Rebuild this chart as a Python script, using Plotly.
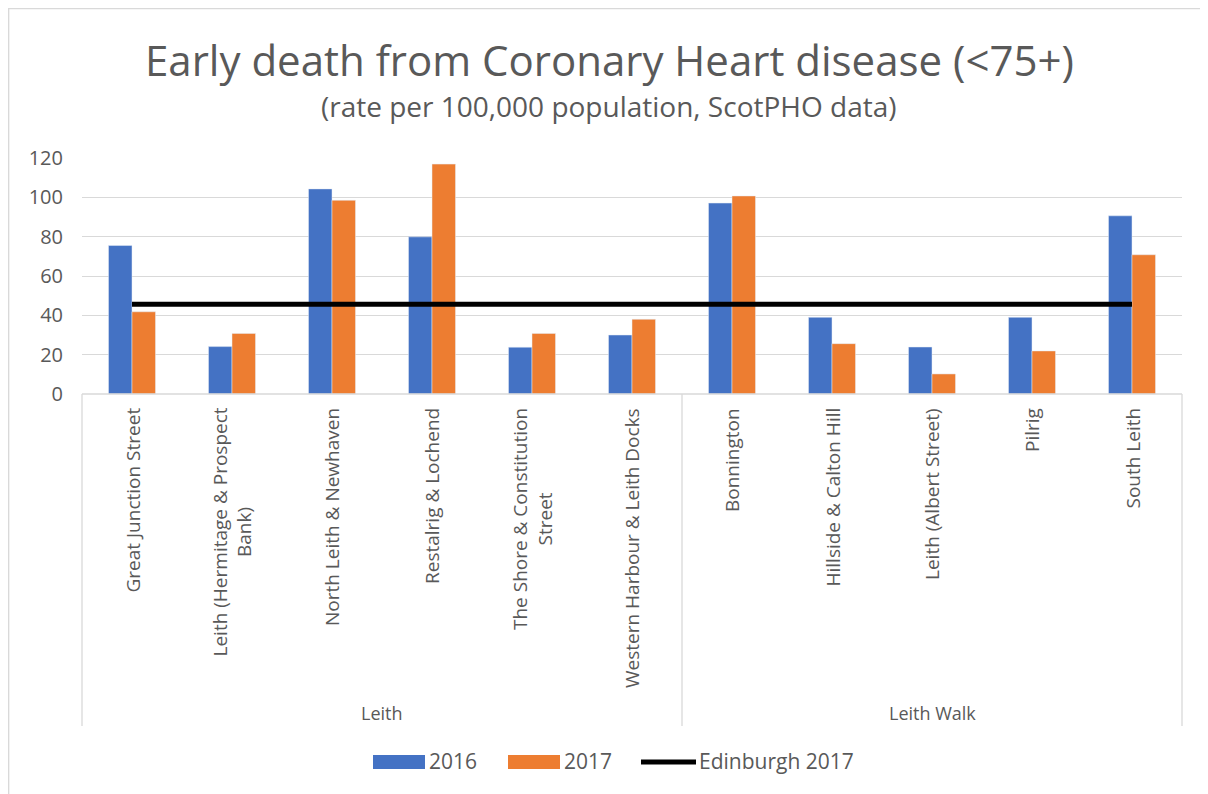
import plotly.graph_objects as go

groups = ["Leith"] * 6 + ["Leith Walk"] * 5
categories = [
    "Great Junction Street",
    "Leith (Hermitage & Prospect<br>Bank)",
    "North Leith & Newhaven",
    "Restalrig & Lochend",
    "The Shore & Constitution<br>Street",
    "Western Harbour & Leith Docks",
    "Bonnington",
    "Hillside & Calton Hill",
    "Leith (Albert Street)",
    "Pilrig",
    "South Leith",
]
values_2016 = [75.5, 24.1, 104.3, 79.9, 23.8, 30.0, 97.1, 39.0, 23.9, 39.0, 90.6]
values_2017 = [41.8, 30.8, 98.5, 116.9, 30.8, 38.0, 100.7, 25.6, 10.2, 21.9, 70.8]
edinburgh_2017 = [45.6] * len(categories)
y_ticks = [0, 20, 40, 60, 80, 100, 120]
series_names = ["2016", "2017", "Edinburgh 2017"]
series_colors = ["#4472C4", "#ED7D31", "#000000"]

# page body margin offset (the figure is drawn 8px in from the page corner)
O = 8
W, H = 1208 - O, 794 - O
L, R, T, B = 82 - O, 1182 - O, 158 - O, 394 - O
pw, ph = R - L, B - T


def px(x):
    """reference page x pixel -> paper x"""
    return (x - O - L) / pw


def py(y):
    """reference page y pixel -> paper y"""
    return (B - (y - O)) / ph


FONT = "Open Sans"
GREY = "#595959"

fig = go.Figure()
fig.add_bar(x=categories, y=values_2016, name=series_names[0], marker_color=series_colors[0])
fig.add_bar(x=categories, y=values_2017, name=series_names[1], marker_color=series_colors[1])
fig.add_scatter(x=categories, y=edinburgh_2017, name=series_names[2], mode="lines",
                line=dict(color=series_colors[2], width=5))

ann = []
for c in categories:
    ann.append(dict(x=c, xref="x", y=py(406), yref="paper", text=c, textangle=-90,
                    showarrow=False, xanchor="center", yanchor="top",
                    font=dict(family=FONT, size=19, color=GREY)))
first, last = {}, {}
for i, g in enumerate(groups):
    first.setdefault(g, i)
    last[g] = i
for g in first:
    x0 = first[g] / len(categories)
    x1 = (last[g] + 1) / len(categories)
    ann.append(dict(x=(x0 + x1) / 2, xref="paper", y=py(713), yref="paper", text=g,
                    showarrow=False, xanchor="center", yanchor="middle",
                    font=dict(family=FONT, size=18, color=GREY)))
ann.append(dict(x=px(609), xref="paper", y=py(59), yref="paper",
                text="Early death from Coronary Heart disease (<75+)", showarrow=False,
                xanchor="center", yanchor="middle", font=dict(family=FONT, size=42, color=GREY)))
ann.append(dict(x=px(609), xref="paper", y=py(106), yref="paper",
                text="(rate per 100,000 population, ScotPHO data)", showarrow=False,
                xanchor="center", yanchor="middle", font=dict(family=FONT, size=28, color=GREY)))

shapes = []
line_col = "#d9d9d9"
# multi-level axis box lines
for xp in [0, 6 / 11, 1]:
    shapes.append(dict(type="line", xref="paper", yref="paper", x0=xp, x1=xp,
                       y0=0, y1=py(726), line=dict(color=line_col, width=1.3)))
shapes.append(dict(type="line", xref="paper", yref="paper", x0=0, x1=1, y0=0, y1=0,
                   line=dict(color=line_col, width=1.3)))
# outer chart border (top and left)
shapes.append(dict(type="line", xref="paper", yref="paper", x0=px(7), x1=px(1300),
                   y0=py(8.6), y1=py(8.6), line=dict(color=line_col, width=1.5)))
shapes.append(dict(type="line", xref="paper", yref="paper", x0=px(8.6), x1=px(8.6),
                   y0=py(8), y1=py(900), line=dict(color=line_col, width=1.5)))

# custom legend (wide swatches like the reference)
legend_y = 762
swatches = [(373, 425, 427), (508, 560, 562), (641, 696, 697)]
for i, (sx0, sx1, tx) in enumerate(swatches):
    if i < 2:
        shapes.append(dict(type="rect", xref="paper", yref="paper", x0=px(sx0), x1=px(sx1),
                           y0=py(legend_y - 7), y1=py(legend_y + 7),
                           fillcolor=series_colors[i], line=dict(width=0)))
    else:
        shapes.append(dict(type="line", xref="paper", yref="paper", x0=px(sx0), x1=px(sx1),
                           y0=py(legend_y), y1=py(legend_y),
                           line=dict(color=series_colors[i], width=5)))
    ann.append(dict(x=px(tx), xref="paper", y=py(legend_y - 1.5), yref="paper",
                    text=series_names[i], showarrow=False, xanchor="left", yanchor="middle",
                    font=dict(family=FONT, size=21, color=GREY)))

fig.update_layout(
    width=W, height=H,
    margin=dict(l=L, r=W - R, t=T, b=H - B, pad=0),
    paper_bgcolor="white", plot_bgcolor="white",
    barmode="group", bargap=0.53, bargroupgap=0,
    font=dict(family=FONT, color=GREY),
    xaxis=dict(showticklabels=False, showgrid=False, zeroline=False, showline=False,
               ticks="", fixedrange=True),
    yaxis=dict(range=[0, 120], tickvals=y_ticks, showgrid=True, gridcolor="#d9d9d9",
               gridwidth=1, zeroline=False, showline=False, ticks="",
               tickfont=dict(family=FONT, size=20, color=GREY), ticklabelstandoff=18),
    showlegend=False,
    annotations=ann,
    shapes=shapes,
)

fig.write_html("out.html")
